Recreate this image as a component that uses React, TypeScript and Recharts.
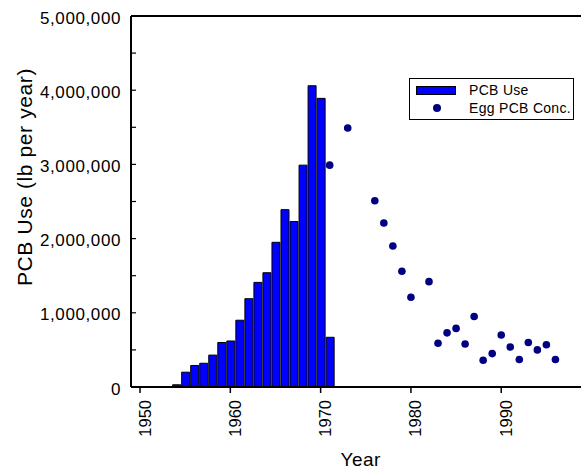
import React from 'react';
import {
  ComposedChart,
  Bar,
  Scatter,
  XAxis,
  YAxis,
  ReferenceLine,
  Label,
} from 'recharts';

// PCB use (lb per year) by year
const useYears = [1954, 1955, 1956, 1957, 1958, 1959, 1960, 1961, 1962, 1963, 1964, 1965, 1966, 1967, 1968, 1969, 1970, 1971];
const useValues = [30000, 200000, 290000, 320000, 430000, 600000, 620000, 900000, 1190000, 1410000, 1540000, 1950000, 2390000, 2230000, 2990000, 4060000, 3890000, 670000];

// egg PCB concentration (plotted on the same scale)
const eggYears = [1971, 1973, 1976, 1977, 1978, 1979, 1980, 1982, 1983, 1984, 1985, 1986, 1987, 1988, 1989, 1990, 1991, 1992, 1993, 1994, 1995, 1996];
const eggValues = [2990000, 3490000, 2510000, 2210000, 1900000, 1560000, 1210000, 1420000, 590000, 730000, 790000, 580000, 950000, 360000, 450000, 700000, 540000, 370000, 600000, 500000, 570000, 370000];

const xTicks = [1950, 1960, 1970, 1980, 1990];
const yTicks = [0, 500000, 1000000, 1500000, 2000000, 2500000, 3000000, 3500000, 4000000, 4500000, 5000000];

const FONT = '"Liberation Sans", Arial, sans-serif';

const useData = useYears.map((year, i) => ({ year, use: useValues[i] }));
const eggData = eggYears.map((year, i) => ({ year, conc: eggValues[i] }));

const YTick = (props: any) => {
  const { x, y, payload } = props;
  const v = payload.value;
  const major = v % 1000000 === 0;
  return (
    <g>
      <line x1={x} x2={x + 5} y1={y} y2={y} stroke="#000" strokeWidth={1.2} />
      {major && (
        <text x={x - 10} y={y + 7.5} textAnchor="end" fontFamily={FONT} fontSize={17} letterSpacing={0.6} fill="#000">
          {v.toLocaleString('en-US')}
        </text>
      )}
    </g>
  );
};

const XTick = (props: any) => {
  const { x, y, payload } = props;
  return (
    <text
      transform={`translate(${x + 10.5},${y + 7}) rotate(-90)`}
      textAnchor="end"
      fontFamily={FONT}
      fontSize={16.5}
      fill="#000"
    >
      {payload.value}
    </text>
  );
};

const Dot = (props: any) => <circle cx={props.cx} cy={props.cy} r={3.8} fill="#000080" />;

export default function App() {
  return (
    <div style={{ position: 'absolute', left: 0, top: 0, width: 581, height: 469, overflow: 'hidden', background: '#fff' }}>
      <ComposedChart
        width={600}
        height={469}
        data={useData}
        margin={{ top: 16, right: 17.5, left: 0, bottom: 0 }}
      >
        <XAxis
          dataKey="year"
          type="number"
          domain={[1949, 1999]}
          ticks={xTicks}
          allowDataOverflow
          height={82}
          tickSize={6}
          tickMargin={0}
          tick={<XTick />}
          tickLine={{ stroke: '#000', strokeWidth: 1.5 }}
          axisLine={{ stroke: '#000', strokeWidth: 2 }}
        >
          <Label value="Year" position="insideBottom" offset={3} dx={4} fontFamily={FONT} fontSize={19} letterSpacing={0.5} fill="#000" />
        </XAxis>
        <YAxis
          type="number"
          domain={[0, 5000000]}
          ticks={yTicks}
          width={131}
          tickSize={0}
          tickMargin={0}
          tick={<YTick />}
          tickLine={false}
          axisLine={{ stroke: '#000', strokeWidth: 2 }}
        >
          <Label
            value="PCB Use (lb per year)"
            angle={-90}
            position="center"
            dx={-40.5}
            dy={-24.5}
            fontFamily={FONT}
            fontSize={21}
            letterSpacing={0.6}
            fill="#000"
          />
        </YAxis>
        <ReferenceLine y={5000000} stroke="#000" strokeWidth={2} ifOverflow="visible" />
        <Bar dataKey="use" fill="#0000ff" stroke="#000" strokeWidth={1} barSize={8} isAnimationActive={false} />
        <Scatter data={eggData} dataKey="conc" shape={<Dot />} isAnimationActive={false} />
      </ComposedChart>
      <div
        style={{
          position: 'absolute',
          left: 409,
          top: 78,
          width: 163,
          height: 40,
          border: '1px solid #000',
          background: '#fff',
          fontFamily: FONT,
          fontSize: 14,
          letterSpacing: 0.3,
          color: '#000',
        }}
      >
        <div style={{ position: 'absolute', left: 6, top: 7, width: 40, height: 9, background: '#0000ff', border: '1px solid #000', boxSizing: 'border-box' }} />
        <div style={{ position: 'absolute', left: 59, top: 3, lineHeight: '16px' }}>PCB Use</div>
        <div style={{ position: 'absolute', left: 23, top: 25, width: 8, height: 8, borderRadius: 4, background: '#000080' }} />
        <div style={{ position: 'absolute', left: 59, top: 21, lineHeight: '16px' }}>Egg PCB Conc.</div>
      </div>
    </div>
  );
}
